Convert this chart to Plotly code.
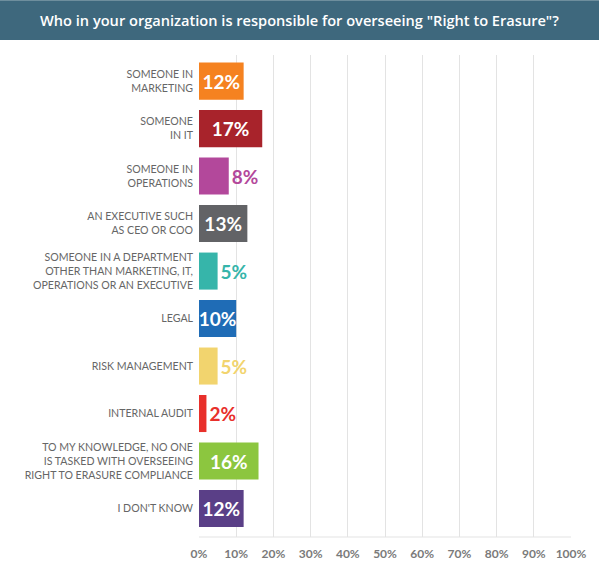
import plotly.graph_objects as go

categories = [
    "SOMEONE IN<br>MARKETING",
    "SOMEONE<br>IN IT",
    "SOMEONE IN<br>OPERATIONS",
    "AN EXECUTIVE SUCH<br>AS CEO OR COO",
    "SOMEONE IN A DEPARTMENT<br>OTHER THAN MARKETING, IT,<br>OPERATIONS OR AN EXECUTIVE",
    "LEGAL",
    "RISK MANAGEMENT",
    "INTERNAL AUDIT",
    "TO MY KNOWLEDGE, NO ONE<br>IS TASKED WITH OVERSEEING<br>RIGHT TO ERASURE COMPLIANCE",
    "I DON'T KNOW",
]
values = [12, 17, 8, 13, 5, 10, 5, 2, 16, 12]
colors = ["#f58220", "#a8232b", "#b3489b", "#626366", "#36b5aa",
          "#1f6cb6", "#f2d46e", "#e8302b", "#8cc63f", "#5a3f87"]
label_inside = [True, True, False, True, False, True, False, False, True, True]
x_ticks = [0, 10, 20, 30, 40, 50, 60, 70, 80, 90, 100]
title_text = 'Who in your organization is responsible for overseeing "Right to Erasure"?'

positions = ["inside" if i else "outside" for i in label_inside]
text_colors = ["white" if i else c for i, c in zip(label_inside, colors)]

fig = go.Figure(go.Bar(
    x=values,
    y=categories,
    orientation="h",
    marker=dict(color=colors, line=dict(width=0)),
    width=0.78,
    text=[f"{v}%" for v in values],
    textposition=positions,
    insidetextanchor="middle",
    textangle=0,
    constraintext="none",
    cliponaxis=False,
    textfont=dict(family="Lato, sans-serif", size=19, color=text_colors, weight="bold"),
    hoverinfo="skip",
))

W, H = 599, 573
t, b = 55, 33
l, r = 199, 28
pw = W - l - r
ph = H - t - b

fig.update_layout(
    width=W, height=H,
    margin=dict(l=l, r=r, t=t, b=b),
    paper_bgcolor="white",
    plot_bgcolor="white",
    showlegend=False,
    xaxis=dict(
        range=[0, 100],
        tickvals=x_ticks,
        ticktext=[f"{v}%" for v in x_ticks],
        showgrid=True,
        gridcolor="#e3e3e3",
        gridwidth=1,
        zeroline=False,
        showline=False,
        tickfont=dict(family="Lato, sans-serif", size=12, color="#7a7a7a", weight="bold"),
        ticks="",
        ticklabelstandoff=8,
        fixedrange=True,
    ),
    yaxis=dict(
        categoryorder="array",
        categoryarray=categories,
        autorange=False,
        range=[len(categories) - 0.4, -0.55],
        tickfont=dict(family="Lato, sans-serif", size=10.6, color="#666666"),
        ticks="",
        showgrid=False,
        zeroline=False,
        showline=False,
        ticklabelstandoff=5,
        fixedrange=True,
    ),
    shapes=[
        dict(type="rect", xref="paper", yref="paper",
             x0=-l / pw, x1=1 + r / pw,
             y0=1 + (t - 40) / ph, y1=1 + t / ph,
             fillcolor="#3e687d", line=dict(width=0), layer="below"),
        dict(type="line", xref="paper", yref="paper",
             x0=0, x1=1, y0=0, y1=0,
             line=dict(color="#e3e3e3", width=1)),
    ],
    annotations=[
        dict(text=title_text, xref="paper", yref="paper",
             x=(W / 2 - l) / pw, y=1 + (t - 20) / ph,
             xanchor="center", yanchor="middle", showarrow=False,
             font=dict(family="Open Sans, sans-serif", size=14.6, color="white", weight=600)),
    ],
)

fig.write_html("out.html", config={"displayModeBar": False},
               post_script="document.body.style.margin='0';document.body.style.overflow='hidden';")
